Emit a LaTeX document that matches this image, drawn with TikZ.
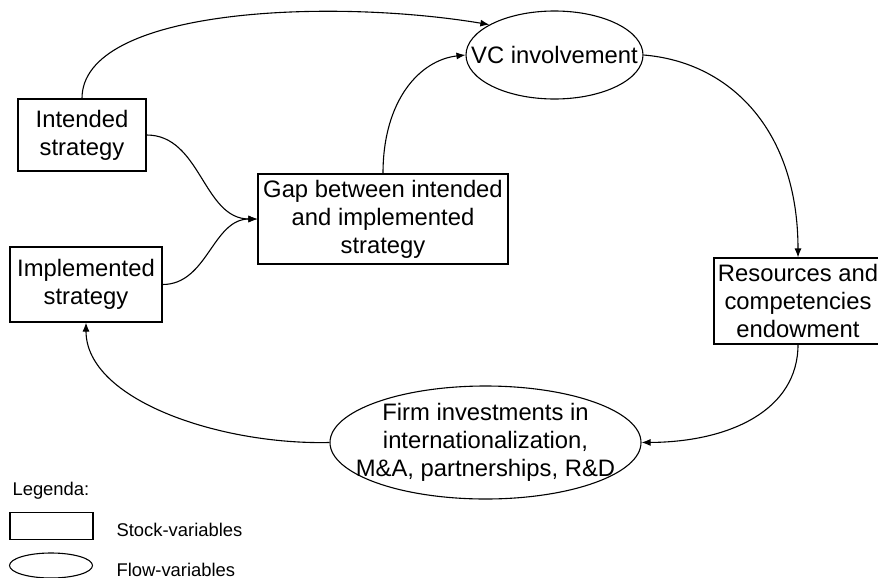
\documentclass[tikz,border=0pt]{standalone}
\usepackage{fontspec}
\setmainfont{Liberation Sans}
\usetikzlibrary{shapes.geometric}
\usetikzlibrary{arrows.meta}

\tikzset{
  stockvar/.style={draw, rectangle, inner sep=0pt, align=center, font=\fontsize{11.9}{14}\selectfont},
  flowvar/.style={draw, ellipse, inner xsep=-16pt, inner ysep=-2pt, align=center, font=\fontsize{11.9}{14}\selectfont},
  legtext/.style={anchor=base west, inner sep=0pt, font=\fontsize{9.2}{11}\selectfont},
  link/.style={-{Latex[length=4.5pt, width=3.5pt]}}
}

\begin{document}
\begin{tikzpicture}[x=0.5pt, y=-0.5pt, line width=0.55pt]
	\useasboundingbox (0,0) rectangle (878,578);
	% Nodes
	\node[stockvar, minimum width=64pt, minimum height=36pt] (intended) at (82,135) {Intended\\strategy};
	\node[stockvar, minimum width=76pt, minimum height=37.5pt] (implemented) at (86,284.5) {Implemented\\strategy};
	\node[stockvar, minimum width=125pt, minimum height=45pt] (gap) at (383,219) {Gap between intended\\and implemented\\strategy};
	\node[flowvar, minimum width=88.5pt, minimum height=44pt] (vc) at (554.5,55) {VC involvement};
	\node[stockvar, minimum width=84pt, minimum height=43pt] (res) at (798,301) {Resources and\\competencies\\endowment};
	\node[flowvar, minimum width=155.5pt, minimum height=56.5pt] (firm) at (485.5,442.5) {Firm investments in\\internationalization,\\M\&A, partnerships, R\&D};

	% Edges
	\draw[link] (intended.north) .. controls (82,8) and (330,-2) .. (vc.155);
	\draw[link] (intended.east) to[out=0, in=180] (gap.west);
	\draw[link] (implemented.east) to[out=0, in=180] (gap.west);
	\draw[link] (gap.north) .. controls (383,100) and (420,60) .. (vc.west);
	\draw[link] (vc.east) .. controls (730,62) and (798,130) .. (res.north);
	\draw[link] (res.south) .. controls (798,410) and (730,442) .. (firm.east);
	\draw[link] (firm.west) .. controls (220,445) and (86,400) .. (implemented.south);

	% Legend
	\node[legtext] (legtitle) at (12,495) {Legenda:};
	\node[draw, rectangle, inner sep=0pt, minimum width=41.5pt, minimum height=13.5pt] (legstock) at (51.5,526) {};
	\node[draw, ellipse, inner sep=0pt, minimum width=41.5pt, minimum height=12.5pt] (legflow) at (51,565.5) {};
	\node[legtext] (legstocktext) at (116,536) {Stock-variables};
	\node[legtext] (legflowtext) at (116,576) {Flow-variables};
\end{tikzpicture}
\end{document}
